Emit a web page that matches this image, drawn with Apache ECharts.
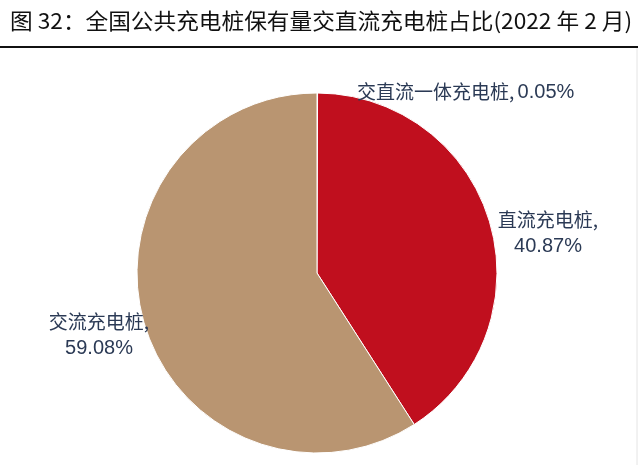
<!DOCTYPE html>
<html><head><meta charset="utf-8">
<script src="https://cdn.jsdelivr.net/npm/echarts@6/dist/echarts.min.js"></script>
<style>html,body{margin:0;padding:0;background:#fff}#c{width:640px;height:465px}</style>
</head><body><div id="c"></div>
<script>
var categories = ['交直流一体充电桩', '直流充电桩', '交流充电桩'];
var shares = [0.05, 40.87, 59.08];
var colors = ['#C8A27A', '#C00F1E', '#B99571'];
var titleText = '图 32：全国公共充电桩保有量交直流充电桩占比(2022 年 2 月)';

var labelPos = [
  {x: 357, y: 92, align: 'left'},
  {x: 548, y: 233, align: 'center'},
  {x: 99, y: 335, align: 'center'}
];

var chart = echarts.init(document.getElementById('c'));
chart.setOption({
  animation: false,
  graphic: [
    {type: 'text', x: 10, y: 21, scaleX: 1.03, style: {text: titleText, fill: '#111', font: '22px "Noto Sans CJK SC"', verticalAlign: 'middle'}},
    {type: 'line', shape: {x1: 0, y1: 47, x2: 638, y2: 47}, style: {stroke: '#111', lineWidth: 2}},
    {type: 'line', shape: {x1: 637, y1: 48, x2: 637, y2: 465}, style: {stroke: '#e4e4e4', lineWidth: 1}}
  ],
  series: [{
    type: 'pie',
    center: [317, 273],
    radius: [0, 180],
    startAngle: 90,
    clockwise: true,
    avoidLabelOverlap: false,
    itemStyle: {borderColor: '#fff', borderWidth: 1},
    labelLine: {show: false},
    label: {
      show: true,
      position: 'outside',
      formatter: function (p) {
        var sep = p.dataIndex === 0 ? '{cn|,} ' : '{cn|,}\n';
        return '{cn|' + p.name + '}' + sep + '{num|' + p.value.toFixed(2) + '%}';
      },
      rich: {
        cn: {fontFamily: 'Noto Sans CJK SC', fontSize: 19, color: '#2B3A55', lineHeight: 26},
        num: {fontFamily: 'Liberation Sans', fontSize: 20, color: '#2B3A55', lineHeight: 26}
      }
    },
    labelLayout: function (params) {
      var lp = labelPos[params.dataIndex];
      return {x: lp.x, y: lp.y, align: lp.align, verticalAlign: 'middle'};
    },
    data: categories.map(function (c, i) {
      return {name: c, value: shares[i], itemStyle: {color: colors[i]}};
    })
  }]
});
</script></body></html>
